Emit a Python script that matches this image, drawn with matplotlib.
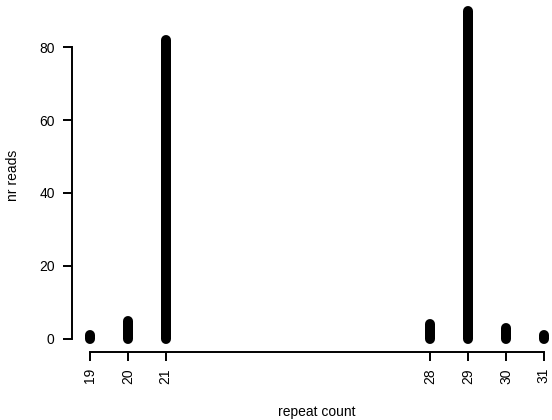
import matplotlib
matplotlib.use("Agg")
import matplotlib.pyplot as plt

repeat_count = [19, 20, 21, 28, 29, 30, 31]
nr_reads = [1, 5, 82, 4, 90, 3, 1]
x_ticks = [19, 20, 21, 28, 29, 30, 31]
y_ticks = [0, 20, 40, 60, 80]

plt.rcParams['font.family'] = ['Liberation Sans', 'DejaVu Sans']
W, H = 552, 420
fig = plt.figure(figsize=(W / 100, H / 100), dpi=100)

xmin, xmax = min(repeat_count), max(repeat_count)
xr = xmax - xmin
ymin, ymax = 0, max(nr_reads)
yr = ymax - ymin
xlim = (xmin - 0.04 * xr, xmax + 0.04 * xr)
ylim = (ymin - 0.04 * yr, ymax + 0.04 * yr)

# plot region in pixels
left_px, right_px = 71.8, 562.0
top_px, bottom_px = -2.6, 352.1
ax = fig.add_axes([left_px / W, 1 - bottom_px / H,
                   (right_px - left_px) / W, (bottom_px - top_px) / H])
ax.set_xlim(*xlim)
ax.set_ylim(*ylim)

ax.vlines(repeat_count, 0, nr_reads, colors='black', linewidth=7.2,
          capstyle='round', clip_on=False)

for s in ['top', 'right']:
    ax.spines[s].set_visible(False)
ax.spines['left'].set_bounds(min(y_ticks), max(y_ticks))
ax.spines['bottom'].set_bounds(min(x_ticks), max(x_ticks))
for s in ['left', 'bottom']:
    ax.spines[s].set_linewidth(1.4)

ax.set_xticks(x_ticks)
ax.set_xticklabels([str(t) for t in x_ticks], rotation=90)
ax.set_yticks(y_ticks)
ax.tick_params(axis='both', length=6.5, width=1.4, labelsize=10, colors='black')
ax.tick_params(axis='x', pad=5)
ax.tick_params(axis='y', pad=5.8)

fig.text(317 / W, 1 - 412 / H, 'repeat count', ha='center', va='center', fontsize=10)
fig.text(13 / W, 1 - 175 / H, 'nr reads', ha='center', va='center', rotation=90, fontsize=10)

fig.savefig('out.png', dpi=100)
